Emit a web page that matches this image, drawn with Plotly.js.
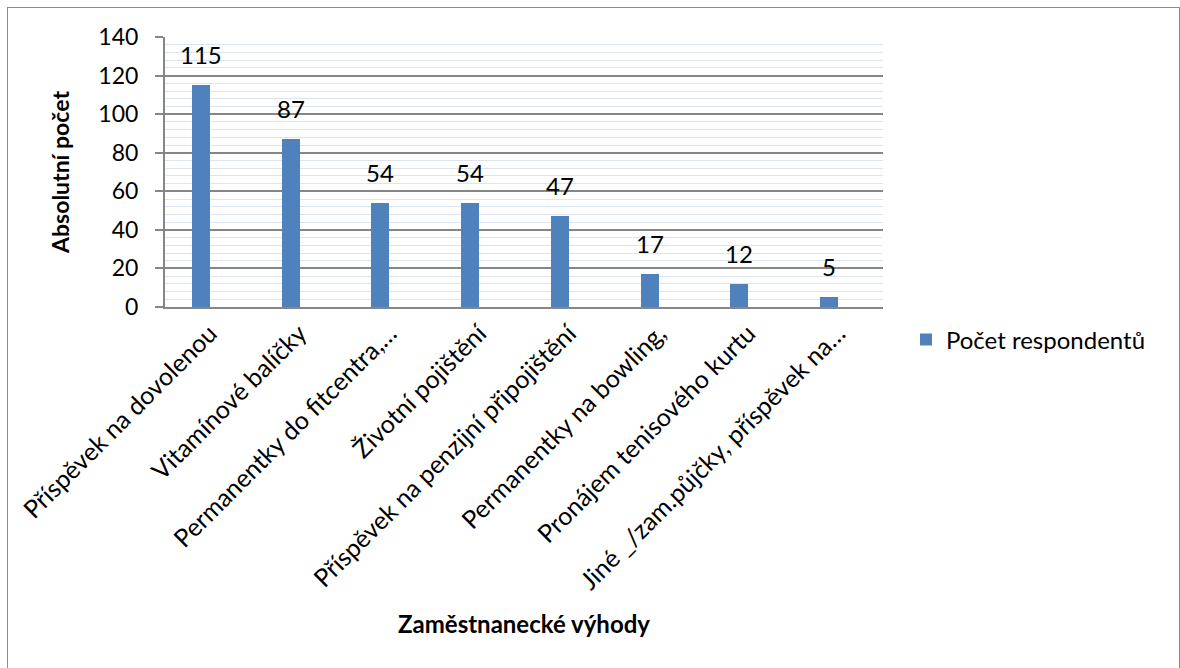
<!DOCTYPE html>
<html>
<head>
<meta charset="utf-8">
<script src="https://cdn.plot.ly/plotly-3.0.1.min.js"></script>
<style>
  html, body { margin: 0; padding: 0; background: #fff; overflow: hidden; }
  #chart { width: 1180px; height: 668px; }
  #frame { position: absolute; left: 7px; top: 7px; width: 1171px; height: 700px;
           border: 1px solid #8c8c8c; pointer-events: none; }
</style>
</head>
<body>
<div id="chart"></div>
<div id="frame"></div>
<script>
// Employee benefits chosen by respondents (absolute counts)
const categories = [
  'Příspěvek na dovolenou',
  'Vitamínové balíčky',
  'Permanentky do fitcentra,…',
  'Životní pojištění',
  'Příspěvek na penzijní připojištění',
  'Permanentky na bowling,',
  'Pronájem tenisového kurtu',
  'Jiné _/zam.půjčky, příspěvek na…'
];
const counts = [115, 87, 54, 54, 47, 17, 12, 5];
const seriesName = 'Počet respondentů';

const font = 'Lato, "Open Sans", sans-serif';
const barColor = '#4f81bd';

const trace = {
  type: 'bar',
  x: categories,
  y: counts,
  name: seriesName,
  marker: { color: barColor },
  width: 0.2,
  offset: -0.2,
  hoverinfo: 'x+y'
};

// value labels above each bar
const labels = counts.map((v, i) => ({
  x: i - 0.1, y: v, xref: 'x', yref: 'y',
  text: String(v), showarrow: false,
  yanchor: 'bottom', yshift: 14,
  font: { family: font, size: 24, color: '#000' }
}));

const layout = {
  width: 1180, height: 668,
  margin: { l: 165, r: 297, t: 37, b: 361 },
  paper_bgcolor: '#fff', plot_bgcolor: '#fff',
  font: { family: font, color: '#000' },
  bargap: 0, showlegend: true,
  legend: {
    x: 1.032, y: -0.122, xanchor: 'left', yanchor: 'middle',
    font: { family: font, size: 24, color: '#000' },
    itemwidth: 30, bgcolor: 'rgba(0,0,0,0)'
  },
  xaxis: {
    type: 'category',
    range: [-0.5, 7.5],
    tickangle: -45,
    ticks: '',
    showgrid: false,
    showline: true, linecolor: '#868686', linewidth: 2,
    tickfont: { family: font, size: 25, color: '#000' },
    automargin: false,
    title: { text: 'Zaměstnanecké výhody', standoff: 22,
             font: { family: font, size: 24, color: '#000', weight: 'bold' } }
  },
  yaxis: {
    range: [0, 140],
    dtick: 20,
    ticks: 'outside', ticklen: 8, tickcolor: '#868686', tickwidth: 2,
    ticklabelstandoff: 12,
    showline: true, linecolor: '#868686', linewidth: 2,
    showgrid: true, gridcolor: '#868686', gridwidth: 2,
    zeroline: false,
    minor: { dtick: 4, showgrid: true, gridcolor: '#dbe4f0', gridwidth: 1 },
    tickfont: { family: font, size: 23, color: '#000' },
    automargin: false,
    title: { text: 'Absolutní počet', standoff: 22,
             font: { family: font, size: 23, color: '#000', weight: 'bold' } }
  },
  annotations: labels
};

Plotly.newPlot('chart', [trace], layout, { displayModeBar: false, staticPlot: true });
</script>
</body>
</html>
